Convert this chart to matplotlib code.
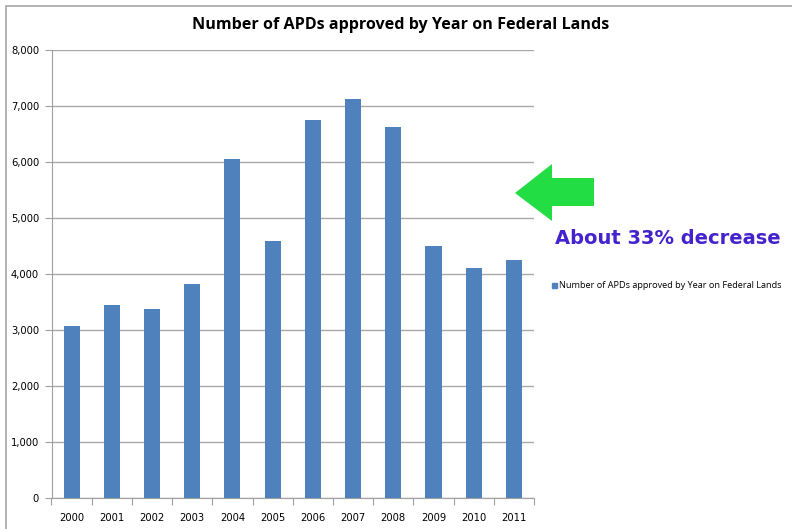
import numpy as np
import matplotlib.pyplot as plt
from matplotlib.patches import Polygon, Rectangle
from matplotlib.ticker import FuncFormatter

# 数据
years = ['2000', '2001', '2002', '2003', '2004', '2005',
         '2006', '2007', '2008', '2009', '2010', '2011']
apds = [3060, 3435, 3375, 3810, 6060, 4580, 6745, 7130, 6620, 4495, 4095, 4250]
y_ticks = [0, 1000, 2000, 3000, 4000, 5000, 6000, 7000, 8000]
series_name = 'Number of APDs approved by Year on Federal Lands'
title = 'Number of APDs approved by Year on Federal Lands'
note = 'About 33% decrease'

W, H = 792, 529
fig = plt.figure(figsize=(W / 100, H / 100), dpi=100)
fig.patch.set_facecolor('white')

# 外框
fig.add_artist(Rectangle((6 / W, -0.1), 1.2, 1.1 - 6 / H, transform=fig.transFigure,
                         fill=False, edgecolor='#a6a6a6', linewidth=1.2))

# 绘图区 (像素)
left, right, top, bottom = 51.5, 534, 50, 497.5
ax = fig.add_axes([left / W, 1 - bottom / H, (right - left) / W, (bottom - top) / H])

x = np.arange(len(years))
ax.bar(x, apds, width=0.4, color='#4f81bd', zorder=3)
ax.set_xlim(-0.5, len(years) - 0.5)
ax.set_ylim(0, 8000)
ax.set_yticks(y_ticks)
ax.yaxis.set_major_formatter(FuncFormatter(lambda v, p: '{:,}'.format(int(v))))
ax.grid(axis='y', color='#a8a8a8', linewidth=1, zorder=0)

# x轴刻度放在类别之间
ax.set_xticks(np.arange(-0.5, len(years), 1))
ax.set_xticklabels([])
ax.set_xticks(x, minor=True)
ax.set_xticklabels(years, minor=True, fontsize=7.2)
ax.tick_params(axis='x', which='minor', length=0, pad=11)
ax.tick_params(axis='x', which='major', length=5, color='#a0a0a0')
ax.tick_params(axis='y', length=5, color='#a0a0a0', labelsize=7.2, pad=4)

for s in ['top', 'right']:
    ax.spines[s].set_visible(False)
for s in ['left', 'bottom']:
    ax.spines[s].set_color('#a0a0a0')

fig.text(401 / W, 1 - 25 / H, title, ha='center', va='center',
         fontsize=11.6, fontweight='bold', family='Open Sans')

# 图例
fig.add_artist(Rectangle((551.5 / W, 1 - 287.5 / H), 5 / W, 5 / H,
                         transform=fig.transFigure, color='#4f81bd'))
fig.text(559 / W, 1 - 285 / H, series_name, ha='left', va='center', fontsize=6.6,
         family='Open Sans')

# 绿色箭头
arrow = [(515, 193), (552, 164), (552, 178), (594, 178),
         (594, 206), (552, 206), (552, 221)]
fig.add_artist(Polygon([(px / W, 1 - py / H) for px, py in arrow], closed=True,
                       transform=fig.transFigure, facecolor='#22dd44', edgecolor='none'))

fig.text(555 / W, 1 - 239 / H, note, ha='left', va='center', fontsize=14,
         fontweight='bold', color='#4422cc', family='DejaVu Sans')

fig.savefig('out.png', dpi=100)
